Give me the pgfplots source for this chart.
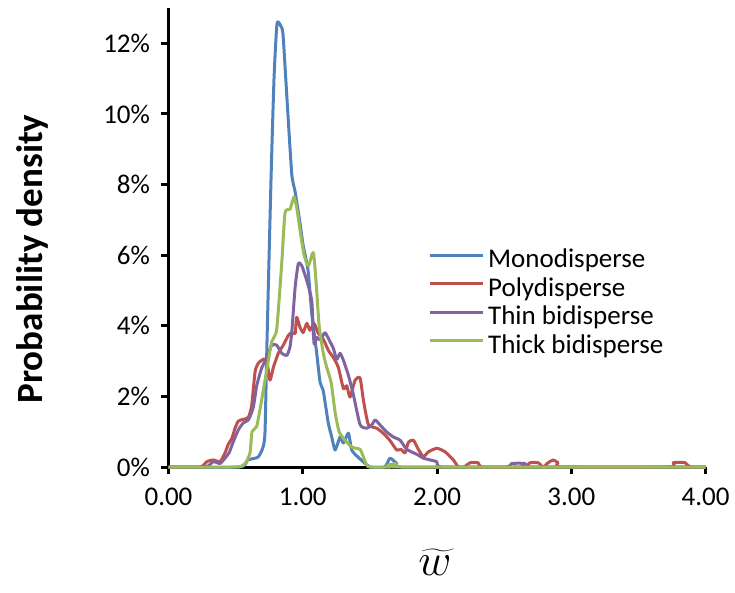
\documentclass[border=0pt]{standalone}
\usepackage{pgfplots}
\pgfplotsset{compat=1.18}
\usepackage{fontspec}
\setmainfont{Carlito}
\definecolor{cblue}{HTML}{4F81BD}
\definecolor{cred}{HTML}{C0504D}
\definecolor{cpurple}{HTML}{8064A2}
\definecolor{cgreen}{HTML}{9BBB59}
\begin{document}
\begin{tikzpicture}
\path[use as bounding box] (-168.5pt,-125pt) rectangle (566.5pt,467pt);
\begin{axis}[
  at={(0pt,0pt)}, anchor=south west,
  scale only axis, width=537pt, height=459pt,
  xmin=0, xmax=4, ymin=0, ymax=13,
  axis x line*=bottom, axis y line*=left,
  axis line style={line width=3pt, black, -},
  xtick={0,1,2,3,4}, xticklabels={0.00,1.00,2.00,3.00,4.00},
  ytick={0,2,4,6,8,10,12}, yticklabels={0\%,2\%,4\%,6\%,8\%,10\%,12\%},
  tick align=outside, major tick length=7pt,
  every tick/.style={black, line width=3pt},
  tick label style={font=\fontsize{27}{32}\selectfont},
  /pgf/number format/assume math mode=true,
  xticklabel style={yshift=-10pt},
  yticklabel style={xshift=-8pt},
  clip=false,
  legend cell align=left,
  legend style={draw=none, fill=none, at={(axis cs:1.91,6.22)}, anchor=north west,
    font=\fontsize{27}{31}\selectfont,
    nodes={inner sep=0pt, text height=18pt, text depth=5pt},
    row sep=5.5pt, column sep=4pt},
  legend image code/.code={\draw[#1] (0pt,6pt) -- (53pt,6pt);},
  every axis plot/.append style={line width=3pt, smooth, tension=0.35, line join=round},
]
\addplot[cblue] coordinates {
(0,0) (0.53,0) (0.59,0.2) (0.667,0.28) (0.704,0.56) (0.719,1.0) (0.734,3.6)
(0.764,8.2) (0.786,11.0) (0.808,12.55) (0.835,12.5) (0.853,12.25) (0.883,10.4)
(0.918,8.3) (0.943,7.8) (0.98,6.9) (1.002,6.3) (1.04,5.56) (1.067,4.35)
(1.104,3.22) (1.129,2.4) (1.153,2.15) (1.19,1.25) (1.216,0.85) (1.241,0.48)
(1.278,0.85) (1.303,0.68) (1.340,0.96) (1.365,0.48) (1.412,0.28) (1.477,0.06)
(1.50,0) (1.61,0) (1.65,0.25) (1.70,0.1) (1.73,0) (4,0)
};
\addlegendentry{Monodisperse}
\addplot[cred] coordinates {
(0,0) (0.235,0) (0.285,0.15) (0.334,0.2) (0.384,0.15) (0.421,0.4) (0.446,0.65)
(0.471,0.8) (0.496,1.1) (0.520,1.3) (0.557,1.35) (0.595,1.41) (0.620,1.75)
(0.645,2.7) (0.669,2.94) (0.706,3.05) (0.732,3.02) (0.756,2.46) (0.781,2.82)
(0.818,3.22) (0.855,3.45) (0.893,3.73) (0.918,3.81) (0.943,3.78) (0.955,4.24)
(0.980,3.95) (1.004,3.81) (1.030,4.07) (1.054,3.87) (1.084,4.07) (1.116,3.78)
(1.153,3.62) (1.191,3.3) (1.228,3.1) (1.265,2.82) (1.303,2.22) (1.328,2.3)
(1.352,1.98) (1.390,2.46) (1.427,2.52) (1.452,1.89) (1.489,1.2) (1.551,1.1)
(1.601,0.95) (1.650,0.75) (1.700,0.48) (1.732,0.5) (1.762,0.4) (1.787,0.7)
(1.824,0.76) (1.861,0.5) (1.899,0.29) (1.936,0.43) (1.999,0.53) (2.060,0.43)
(2.122,0.2) (2.159,0) (2.20,0) (2.247,0.12) (2.306,0.12) (2.34,0) (2.634,0)
(2.694,0.12) (2.753,0.12) (2.79,0) (2.828,0.12) (2.865,0.2) (2.902,0.12)
(2.932,0) (3.72,0) (3.76,0.12) (3.80,0.13) (3.85,0.12) (3.886,0) (4,0)
};
\addlegendentry{Polydisperse}
\addplot[cpurple] coordinates {
(0,0) (0.272,0) (0.334,0.15) (0.384,0.1) (0.421,0.25) (0.451,0.4) (0.481,0.7)
(0.520,1.05) (0.557,1.25) (0.595,1.33) (0.632,1.7) (0.657,2.3) (0.694,2.8)
(0.732,3.1) (0.769,3.45) (0.806,3.45) (0.844,3.22) (0.881,3.16) (0.905,3.4)
(0.920,3.9) (0.943,5.08) (0.967,5.76) (0.993,5.7) (1.030,5.28) (1.067,4.7)
(1.084,3.5) (1.104,3.67) (1.129,3.6) (1.166,3.8) (1.203,3.55) (1.228,3.36)
(1.253,3.05) (1.278,3.22) (1.303,3.02) (1.340,2.6) (1.377,2.05) (1.427,1.2)
(1.477,1.1) (1.514,1.19) (1.539,1.33) (1.576,1.19) (1.626,0.99) (1.675,0.85)
(1.725,0.76) (1.775,0.5) (1.849,0.36) (1.899,0.25) (1.949,0.2) (1.998,0.15)
(2.036,0) (2.507,0) (2.557,0.1) (2.657,0.1) (2.694,0) (4,0)
};
\addlegendentry{Thin bidisperse}
\addplot[cgreen] coordinates {
(0,0) (0.50,0) (0.57,0.1) (0.607,0.4) (0.622,1.0) (0.657,1.15) (0.694,1.9)
(0.732,2.75) (0.769,3.55) (0.806,3.9) (0.844,5.8) (0.868,7.2) (0.905,7.3)
(0.935,7.65) (0.957,7.3) (0.98,6.7) (1.01,6.0) (1.042,5.7) (1.079,6.07)
(1.102,5.1) (1.122,4.0) (1.153,3.22) (1.18,2.8) (1.211,2.4) (1.241,1.55)
(1.271,1.0) (1.315,0.76) (1.367,0.56) (1.427,0.5) (1.452,0.28) (1.477,0.05)
(1.50,0) (1.65,0) (1.695,0.1) (1.74,0) (4,0)
};
\addlegendentry{Thick bidisperse}
\end{axis}
\node[rotate=90, font=\bfseries\fontsize{37}{44}\selectfont] at (-136.5pt,208pt) {Probability density};
\node[scale=2.2, font=\huge] at (266.5pt,-95pt) {$\widetilde{w}$};
\end{tikzpicture}
\end{document}
